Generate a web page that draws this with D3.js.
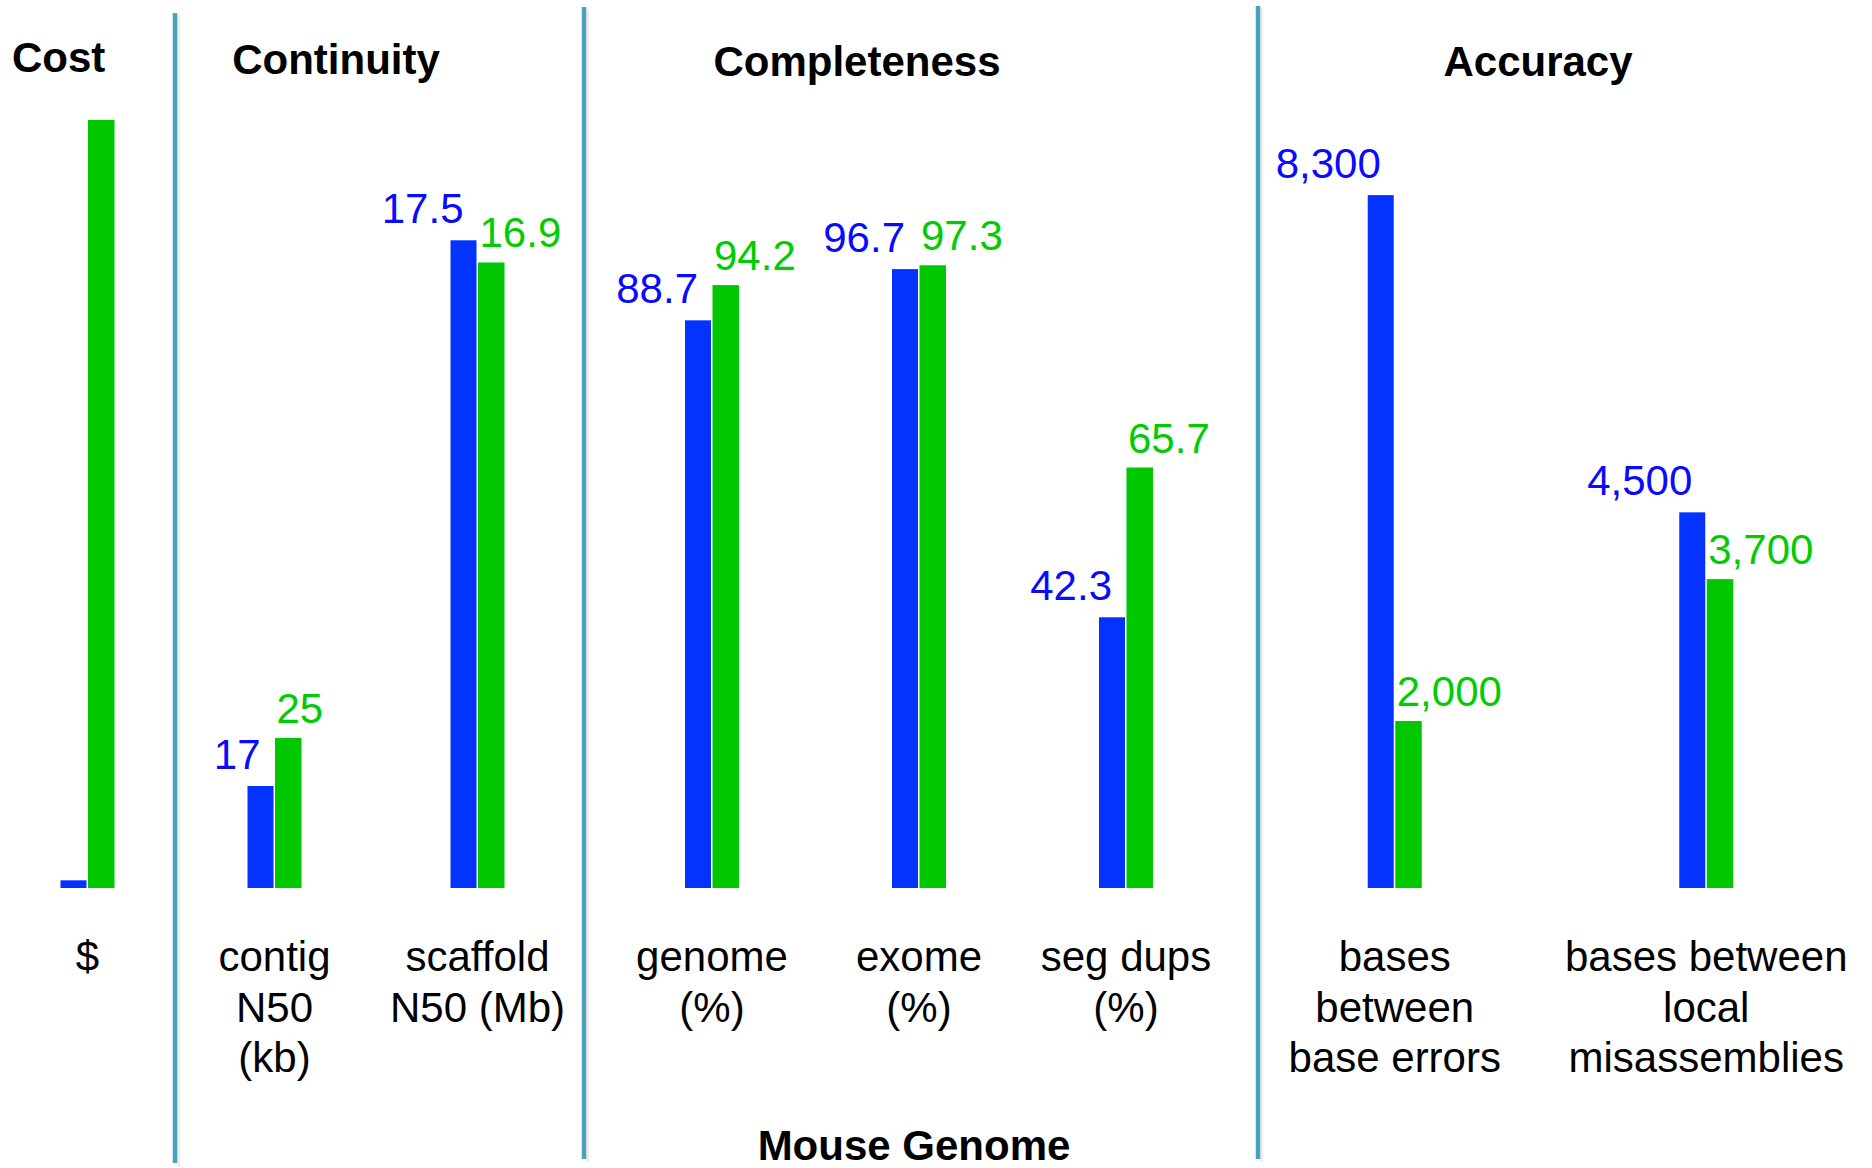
<!DOCTYPE html>
<html>
<head>
<meta charset="utf-8">
<script src="https://cdn.jsdelivr.net/npm/d3@7"></script>
<style>
  html, body { margin: 0; padding: 0; background: #ffffff; }
  svg { display: block; }
  text { font-family: "Liberation Sans", Arial, Helvetica, sans-serif; }
</style>
</head>
<body>
<svg id="chart" width="1872" height="1168"></svg>
<script>
// ---- data ----
const categoryLines = [
  ["$"],
  ["contig", "N50", "(kb)"],
  ["scaffold", "N50 (Mb)"],
  ["genome", "(%)"],
  ["exome", "(%)"],
  ["seg dups", "(%)"],
  ["bases", "between", "base errors"],
  ["bases between", "local", "misassemblies"]
];
const blueValues  = [1, 17, 17.5, 88.7, 96.7, 42.3, 8300, 4500];
const greenValues = [100, 25, 16.9, 94.2, 97.3, 65.7, 2000, 3700];
// each metric is drawn on its own axis; this is the top of that axis
const scaleMax    = [100, 128, 20.75, 120, 120, 120, 9200, 9200];
const showValues  = [false, true, true, true, true, true, true, true];
const valueFormat = ["", "", ".1f", ".1f", ".1f", ".1f", ",", ","];
const panelTitles = ["Cost", "Continuity", "Completeness", "Accuracy"];
const panelOf     = [0, 1, 1, 2, 2, 2, 3, 3];
const footerTitle = "Mouse Genome";

// ---- layout ----
const W = 1872, H = 1168;
const baseY = 888, plotH = 768;
const barW = 26.5;
const BLUE = "#0433FF", GREEN = "#00C800";
const BLUE_TEXT = "#0A0AFF", GREEN_TEXT = "#00CC00";
const panelRanges = [[0, 175], [173, 579], [608.5, 1229.5], [1239, 1862]];
const dividers = [{x: 175, y1: 13, y2: 1163}, {x: 584, y1: 7, y2: 1159}, {x: 1258, y1: 6, y2: 1159}];
const titlePos = [{x: 12, y: 72, anchor: "start"}, {x: 336, y: 74, anchor: "middle"},
                  {x: 857, y: 76, anchor: "middle"}, {x: 1538, y: 76, anchor: "middle"}];

const svg = d3.select("#chart");

// per-panel band scales for the category positions
const idx = d3.range(blueValues.length);
const xScales = panelTitles.map((t, p) =>
  d3.scaleBand()
    .domain(idx.filter(i => panelOf[i] === p))
    .range(panelRanges[p])
    .padding(0));
const centerX = i => { const s = xScales[panelOf[i]]; return s(i) + s.bandwidth() / 2; };
const yScales = scaleMax.map(m => d3.scaleLinear().domain([0, m]).range([baseY, baseY - plotH]));

// divider lines between panels
const divG = svg.append("g");
divG.selectAll("line.shadow").data(dividers).join("line")
  .attr("class", "shadow")
  .attr("x1", d => d.x + 3.5).attr("x2", d => d.x + 3.5)
  .attr("y1", d => d.y1 + 2).attr("y2", d => d.y2 + 3)
  .attr("stroke", "rgba(0,0,0,0.07)").attr("stroke-width", 3);
divG.selectAll("line.div").data(dividers).join("line")
  .attr("class", "div")
  .attr("x1", d => d.x).attr("x2", d => d.x)
  .attr("y1", d => d.y1).attr("y2", d => d.y2)
  .attr("stroke", "#49A3BA").attr("stroke-width", 4.5);

// panel titles
svg.append("g").selectAll("text").data(panelTitles).join("text")
  .attr("x", (d, p) => titlePos[p].x)
  .attr("y", (d, p) => titlePos[p].y)
  .attr("text-anchor", (d, p) => titlePos[p].anchor)
  .attr("font-size", 42).attr("font-weight", "bold").attr("fill", "#000")
  .text(d => d);

// bars
const barsG = svg.append("g");
barsG.selectAll("rect.blue").data(idx).join("rect")
  .attr("class", "blue")
  .attr("x", i => centerX(i) - 27)
  .attr("y", i => yScales[i](blueValues[i]))
  .attr("width", barW - 0.5)
  .attr("height", i => baseY - yScales[i](blueValues[i]))
  .attr("fill", BLUE);
barsG.selectAll("rect.green").data(idx).join("rect")
  .attr("class", "green")
  .attr("x", i => centerX(i) + 0.5)
  .attr("y", i => yScales[i](greenValues[i]))
  .attr("width", barW)
  .attr("height", i => baseY - yScales[i](greenValues[i]))
  .attr("fill", GREEN);

// value labels
const fmt = i => valueFormat[i] ? d3.format(valueFormat[i]) : (v => String(v));
const labG = svg.append("g").attr("font-size", 42);
labG.selectAll("text.blue").data(idx.filter(i => showValues[i])).join("text")
  .attr("class", "blue")
  .attr("x", i => centerX(i) - 14)
  .attr("y", i => yScales[i](blueValues[i]) - 17)
  .attr("text-anchor", "end")
  .attr("fill", BLUE_TEXT)
  .text(i => fmt(i)(blueValues[i]));
labG.selectAll("text.green").data(idx.filter(i => showValues[i])).join("text")
  .attr("class", "green")
  .attr("x", i => centerX(i) + 2)
  .attr("y", i => yScales[i](greenValues[i]) - 15)
  .attr("text-anchor", "start")
  .attr("fill", GREEN_TEXT)
  .text(i => fmt(i)(greenValues[i]));

// category labels
const catG = svg.append("g").attr("font-size", 42).attr("fill", "#000");
idx.forEach(i => {
  catG.append("text")
    .attr("x", centerX(i))
    .attr("y", 971)
    .attr("text-anchor", "middle")
    .selectAll("tspan").data(categoryLines[i]).join("tspan")
      .attr("x", centerX(i))
      .attr("dy", (d, k) => k === 0 ? 0 : 50.5)
      .text(d => d);
});

// footer
svg.append("text")
  .attr("x", 914).attr("y", 1160)
  .attr("text-anchor", "middle")
  .attr("font-size", 42).attr("font-weight", "bold").attr("fill", "#000")
  .text(footerTitle);
</script>
</body>
</html>
